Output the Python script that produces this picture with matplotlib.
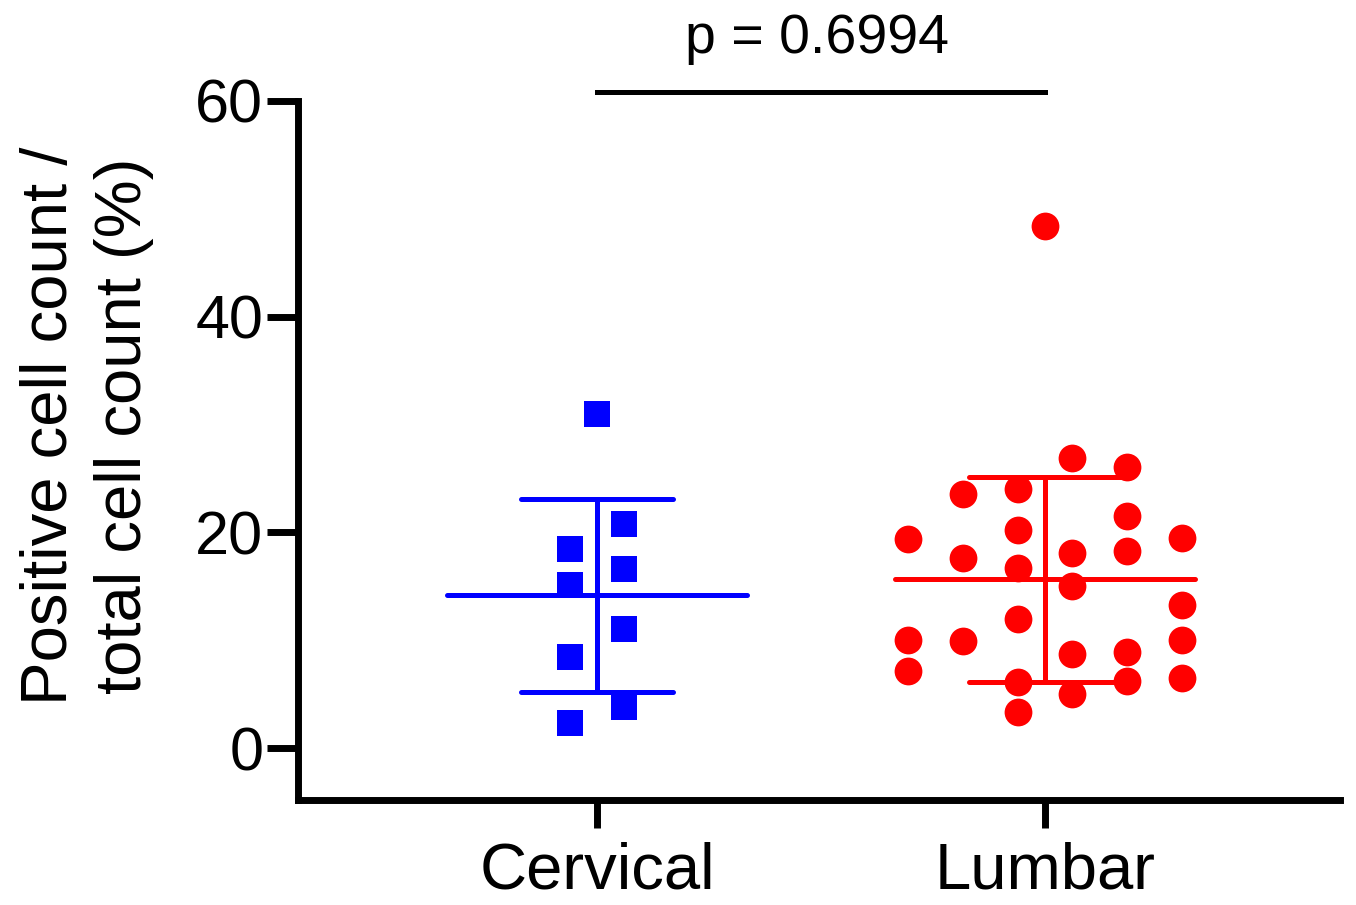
import numpy as np
import matplotlib.pyplot as plt

# values (%)
groups = ['Cervical', 'Lumbar']
cervical = [31.0, 20.8, 18.5, 16.6, 15.1, 11.1, 8.5, 3.8, 2.35]
cervical_slot = [0, 0.5, -0.5, 0.5, -0.5, 0.5, -0.5, 0.5, -0.5]
lumbar = [48.4,
          19.4, 10.0, 7.2,
          23.6, 17.65, 9.95,
          24.0, 20.2, 16.7, 12.0, 6.1, 3.4,
          26.95, 18.1, 15.05, 8.7, 5.07,
          26.1, 21.5, 18.3, 8.9, 6.2,
          19.5, 13.3, 10.0, 6.55]
lumbar_slot = [0,
               -2.5, -2.5, -2.5,
               -1.5, -1.5, -1.5,
               -0.5, -0.5, -0.5, -0.5, -0.5, -0.5,
               0.5, 0.5, 0.5, 0.5, 0.5,
               1.5, 1.5, 1.5, 1.5, 1.5,
               2.5, 2.5, 2.5, 2.5]
p_text = 'p = 0.6994'

plt.rcParams['font.family'] = ['Liberation Sans', 'DejaVu Sans']

fig = plt.figure(figsize=(13.56, 9.05), dpi=100)
ax = fig.add_axes([0.2198, 0.116, 0.9882 - 0.2198, 0.8884 - 0.116])

spread = 0.122
series = [(cervical, cervical_slot, 'blue', 's'), (lumbar, lumbar_slot, 'red', 'o')]
for i, (vals, slots, col, mk) in enumerate(series):
    vals = np.array(vals)
    xs = i + np.array(slots) * spread
    ax.plot(xs, vals, linestyle='none', marker=mk, color=col,
            markersize=20 if mk == 'o' else 19, markeredgewidth=0, zorder=3)
    # mean +/- SD
    m = vals.mean()
    sd = vals.std(ddof=1)
    ax.hlines(m, i - 0.334, i + 0.334, color=col, lw=3.6, capstyle='round', zorder=2)
    ax.hlines([m - sd, m + sd], i - 0.17, i + 0.17, color=col, lw=3.6,
              capstyle='round', zorder=2)
    ax.vlines(i, m - sd, m + sd, color=col, lw=3.6, zorder=2)

# significance bar
ax.plot([0, 1], [60.8, 60.8], color='black', lw=3.6, clip_on=False)
ax.text(0.49, 63.3, p_text, ha='center', va='bottom', fontsize=40, clip_on=False)

ax.set_xlim(-0.667, 1.658)
ax.set_ylim(-4.8, 60)
ax.set_yticks([0, 20, 40, 60])
ax.set_xticks([0, 1])
ax.set_xticklabels(groups)

ax.spines['top'].set_visible(False)
ax.spines['right'].set_visible(False)
for s in ['left', 'bottom']:
    ax.spines[s].set_linewidth(5)
ax.tick_params(axis='y', length=22, width=5, pad=3, labelsize=44)
ax.tick_params(axis='x', length=20, width=5, pad=10, labelsize=47)

ax.set_ylabel('Positive cell count /\ntotal cell count (%)', fontsize=47,
              linespacing=1.3)
ax.yaxis.set_label_coords(-0.138, 0.535)

plt.savefig('out.png', dpi=100)
